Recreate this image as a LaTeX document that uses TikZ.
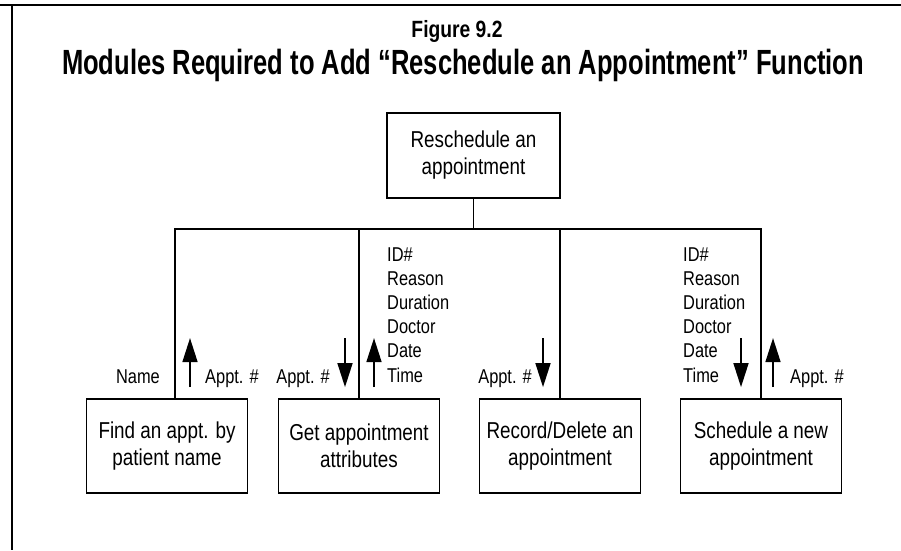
\documentclass[tikz,border=0pt]{standalone}
\usepackage{fontspec}
\setmainfont{Liberation Sans}[FakeStretch=0.82]
\newfontfamily\titlefont{Liberation Sans}[FakeStretch=0.73]
\usetikzlibrary{arrows.meta, positioning}

\begin{document}
\begin{tikzpicture}[x=1pt, y=1pt,
  module/.style={rectangle, draw, line width=1.8pt, minimum width=161pt, minimum height=94pt,
    align=center, inner sep=0pt, font=\fontsize{23}{27}\selectfont},
  link/.style={line width=1.4pt},
  flow/.style={line width=1.6pt, -{Triangle[length=24pt, width=15pt]}},
  lbl/.style={inner sep=0pt, font=\fontsize{20}{24}\selectfont},
  attrs/.style={lbl, align=left, anchor=north west, font=\fontsize{20}{24.2}\selectfont}]
  \useasboundingbox (0,0) rectangle (901,550);

  % Draw the page frame
  \draw [line width=2pt] (0,545) -- (901,545);
  \draw [line width=1.6pt] (12,545) -- (12,0);

  % Draw the caption
  \node (fignum) [anchor=base, font=\bfseries\fontsize{23.5}{28}\selectfont] at (457,512) {Figure 9.2};
  \node (title) [anchor=base, font=\titlefont\bfseries\fontsize{35}{40}\selectfont] at (463,475)
    {Modules Required to Add “Reschedule an Appointment” Function};

  % Create the nodes
  \node (reschedule) [module, minimum width=173pt, minimum height=85pt] at (473.5,394.5) {Reschedule an\\appointment};
  \node (findappt) [module] at (167,104) {Find an appt. by\\patient name};
  \node (getattr) [module] at (359,104) {Get appointment\\attributes};
  \node (recdelete) [module] at (560,104) {Record/Delete an\\appointment};
  \node (schednew) [module] at (761,104) {Schedule a new\\appointment};

  % Draw the calling tree
  \coordinate (bus) at (473.5,321);
  \draw [link] (reschedule) -- (bus);
  \draw [link] (bus) -| ([xshift=8]findappt.north);
  \draw [link] (bus) -| (getattr.north);
  \draw [link] (bus) -| (recdelete.north);
  \draw [link] (bus) -| (schednew.north);

  % Data passed to Find an appt.
  \node (name) [lbl, anchor=base east] at ([xshift=-7, yshift=15]findappt.north) {Name};
  \draw [flow] ([xshift=23, yshift=11]findappt.north) -- ++(0,49);
  \node (apptfind) [lbl, anchor=base west] at ([xshift=38, yshift=15]findappt.north) {Appt. \#};

  % Data passed to Get appointment attributes
  \node (apptget) [lbl, anchor=base east] at ([xshift=-29, yshift=15]getattr.north) {Appt. \#};
  \draw [flow] ([xshift=-14, yshift=60]getattr.north) -- ++(0,-49);
  \draw [flow] ([xshift=15, yshift=11]getattr.north) -- ++(0,49);
  \node (attrsget) [attrs] at ([xshift=28, yshift=151]getattr.north) {ID\#\\Reason\\Duration\\Doctor\\Date\\Time};

  % Data passed to Record/Delete
  \node (apptrec) [lbl, anchor=base east] at ([xshift=-28, yshift=15]recdelete.north) {Appt. \#};
  \draw [flow] ([xshift=-17, yshift=60]recdelete.north) -- ++(0,-49);

  % Data passed to Schedule a new appt.
  \node (attrsnew) [attrs] at ([xshift=-78, yshift=151]schednew.north) {ID\#\\Reason\\Duration\\Doctor\\Date\\Time};
  \draw [flow] ([xshift=-20, yshift=60]schednew.north) -- ++(0,-49);
  \draw [flow] ([xshift=12, yshift=11]schednew.north) -- ++(0,49);
  \node (apptnew) [lbl, anchor=base west] at ([xshift=29, yshift=15]schednew.north) {Appt. \#};
\end{tikzpicture}
\end{document}
